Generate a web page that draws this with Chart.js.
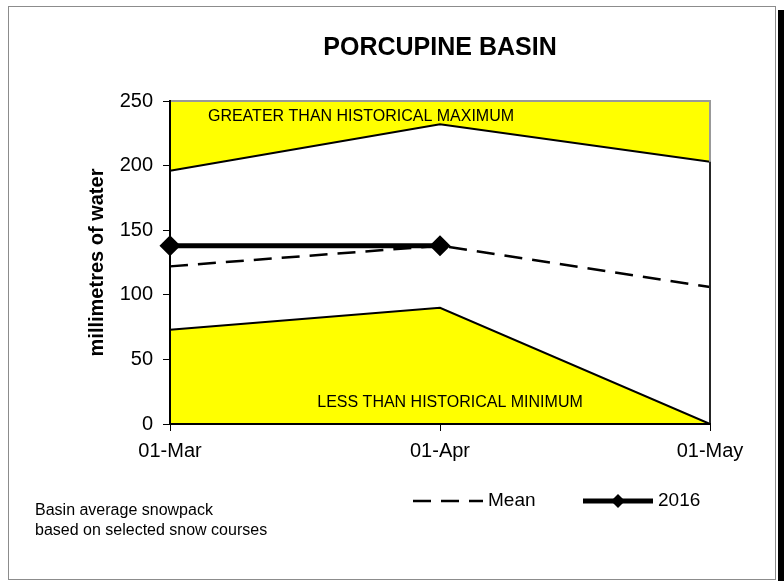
<!DOCTYPE html>
<html>
<head>
<meta charset="utf-8">
<script src="https://cdn.jsdelivr.net/npm/chart.js@4.4.0/dist/chart.umd.min.js"></script>
<style>
  html, body { margin: 0; padding: 0; background: #fff; }
  #wrap { width: 784px; height: 581px; position: relative; }
</style>
</head>
<body>
<div id="wrap"><canvas id="snowChart" width="784" height="581"></canvas></div>
<script>
// data
const dates = ['01-Mar', '01-Apr', '01-May'];
const histMax = [196, 232, 203];
const meanSwe = [122, 138, 106];
const swe2016 = [138, 138, null];
const histMin = [73, 90, 0];
const yTicks = [0, 50, 100, 150, 200, 250];

const FONT = "'Liberation Sans', Arial, sans-serif";
const YELLOW = '#ffff00';

// frame, plot border, notes and the legend drawn by hand
const decorPlugin = {
    id: 'decor',
    beforeDraw(chart) {
        const ctx = chart.ctx;
        ctx.save();
        ctx.fillStyle = '#fff';
        ctx.fillRect(0, 0, chart.width, chart.height);
        ctx.strokeStyle = '#8c8c8c';
        ctx.lineWidth = 1;
        ctx.strokeRect(8.5, 6.5, 767, 573);
        ctx.fillStyle = '#000';
        ctx.fillRect(778, 10, 6, 571);
        ctx.restore();
    },
    afterDatasetsDraw(chart) {
        const ctx = chart.ctx;
        const a = chart.chartArea;
        const x = chart.scales.x, y = chart.scales.y;
        ctx.save();
        // grey top and right edge of the plot
        ctx.strokeStyle = '#999';
        ctx.lineWidth = 2;
        ctx.beginPath();
        ctx.moveTo(a.left, a.top);
        ctx.lineTo(a.right, a.top);
        ctx.lineTo(a.right, a.bottom);
        ctx.stroke();
        // black edge between max and min at the last date
        const last = dates.length - 1;
        ctx.strokeStyle = '#000';
        ctx.lineWidth = 1.5;
        ctx.beginPath();
        ctx.moveTo(x.getPixelForValue(last), y.getPixelForValue(histMax[last]));
        ctx.lineTo(x.getPixelForValue(last), y.getPixelForValue(histMin[last]));
        ctx.stroke();

        ctx.fillStyle = '#000';
        ctx.font = '16px ' + FONT;
        ctx.textBaseline = 'middle';
        ctx.textAlign = 'center';
        ctx.fillText('GREATER THAN HISTORICAL MAXIMUM', 361, 117);
        ctx.fillText('LESS THAN HISTORICAL MINIMUM', 450, 403);
        ctx.restore();
    },
    afterDraw(chart) {
        const ctx = chart.ctx;
        ctx.save();
        ctx.fillStyle = '#000';
        ctx.textBaseline = 'middle';
        ctx.textAlign = 'left';
        ctx.font = '16px ' + FONT;
        ctx.fillText('Basin average snowpack', 35, 511);
        ctx.fillText('based on selected snow courses', 35, 531);

        // legend, styles taken from the datasets
        const mean = chart.data.datasets[1];
        const cur = chart.data.datasets[0];
        const ly = 501;
        ctx.strokeStyle = mean.borderColor;
        ctx.lineWidth = mean.borderWidth;
        ctx.setLineDash(mean.borderDash);
        ctx.beginPath();
        ctx.moveTo(413, ly);
        ctx.lineTo(483, ly);
        ctx.stroke();
        ctx.setLineDash([]);
        ctx.font = '19px ' + FONT;
        ctx.fillText(mean.label, 488, ly);

        ctx.strokeStyle = cur.borderColor;
        ctx.lineWidth = cur.borderWidth;
        ctx.beginPath();
        ctx.moveTo(583, ly);
        ctx.lineTo(653, ly);
        ctx.stroke();
        const r = 7;
        ctx.fillStyle = cur.pointBackgroundColor;
        ctx.beginPath();
        ctx.moveTo(618, ly - r);
        ctx.lineTo(618 + r, ly);
        ctx.lineTo(618, ly + r);
        ctx.lineTo(618 - r, ly);
        ctx.closePath();
        ctx.fill();
        ctx.fillStyle = '#000';
        ctx.fillText(cur.label, 658, ly);
        ctx.restore();
    }
};

new Chart(document.getElementById('snowChart'), {
    type: 'line',
    data: {
        labels: dates,
        datasets: [
            {
                label: '2016',
                data: swe2016,
                borderColor: '#000',
                borderWidth: 5,
                pointStyle: 'rectRot',
                pointRadius: 7,
                pointBackgroundColor: '#000',
                pointBorderColor: '#000',
                fill: false,
                spanGaps: false
            },
            {
                label: 'Mean',
                data: meanSwe,
                borderColor: '#000',
                borderWidth: 2.5,
                borderDash: [18, 10],
                pointRadius: 0,
                fill: false
            },
            {
                label: 'Max',
                data: histMax,
                borderColor: '#000',
                borderWidth: 2,
                pointRadius: 0,
                backgroundColor: YELLOW,
                fill: 'end'
            },
            {
                label: 'Min',
                data: histMin,
                borderColor: '#000',
                borderWidth: 2,
                pointRadius: 0,
                backgroundColor: YELLOW,
                fill: 'origin'
            }
        ]
    },
    options: {
        responsive: false,
        animation: false,
        devicePixelRatio: 1,
        layout: { padding: { left: 0, right: 74, top: 0, bottom: 117 } },
        plugins: {
            legend: { display: false },
            tooltip: { enabled: false },
            title: {
                display: true,
                fullSize: false,
                text: 'PORCUPINE BASIN',
                color: '#000',
                font: { family: FONT, size: 25, weight: 'bold' },
                padding: { top: 33, bottom: 38 }
            }
        },
        scales: {
            x: {
                type: 'category',
                offset: false,
                afterFit(scale) { scale.height = 40; },
                grid: { drawOnChartArea: false, tickLength: 7, color: '#000', tickColor: '#000', lineWidth: 1 },
                border: { color: '#000', width: 2, z: 1 },
                ticks: { color: '#000', font: { family: FONT, size: 20 }, padding: 8, maxRotation: 0 }
            },
            y: {
                min: 0,
                max: 250,
                afterFit(scale) { scale.width = 170; },
                afterBuildTicks(scale) { scale.ticks = yTicks.map(v => ({ value: v })); },
                grid: { drawOnChartArea: false, tickLength: 7, color: '#000', tickColor: '#000', lineWidth: 1 },
                border: { color: '#000', width: 2, z: 1 },
                ticks: { color: '#000', font: { family: FONT, size: 20 }, padding: 10 },
                title: {
                    display: true,
                    text: 'millimetres of water',
                    color: '#000',
                    font: { family: FONT, size: 20, weight: 'bold' },
                    padding: { top: 85, bottom: 0 }
                }
            }
        }
    },
    plugins: [decorPlugin]
});
</script>
</body>
</html>
